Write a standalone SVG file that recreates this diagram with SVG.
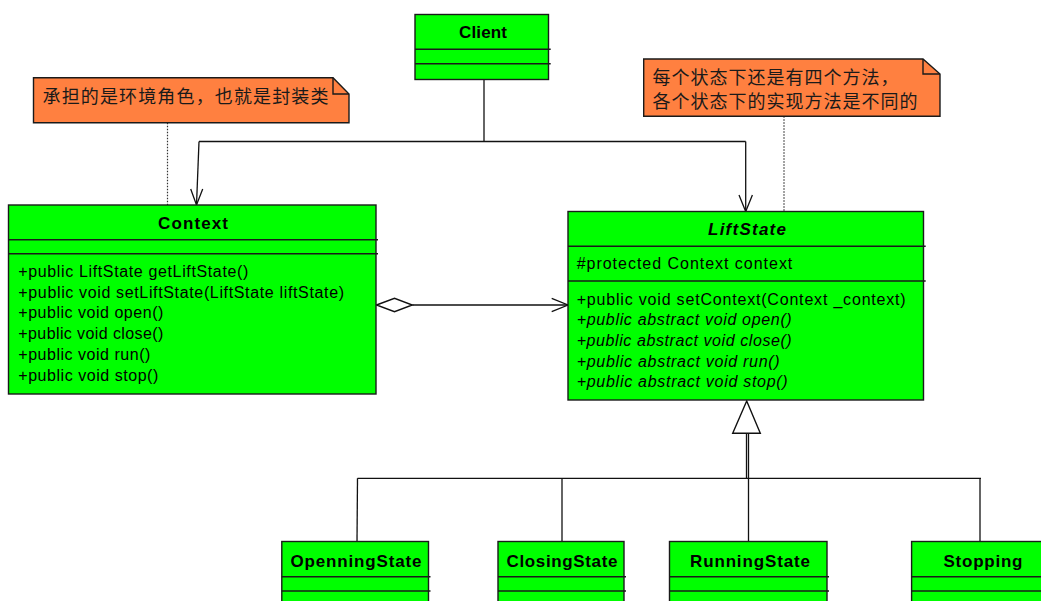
<svg xmlns="http://www.w3.org/2000/svg" width="1041" height="601" viewBox="0 0 1041 601">
<style>
.box{fill:#00ff00;stroke:#1a1a1a;stroke-width:1.4}
.div{stroke:#1a1a1a;stroke-width:1.4}
.note{fill:#ff8040;stroke:#1a1a1a;stroke-width:1.4}
.fold{fill:none;stroke:#1a1a1a;stroke-width:1.4}
.title{font-family:"Liberation Sans",Arial,sans-serif;font-size:17px;font-weight:bold;fill:#000;text-anchor:middle}
.mem{font-family:"Liberation Sans",Arial,sans-serif;font-size:16px;fill:#000}
.it{font-style:italic}
.cn{font-family:"Noto Sans CJK SC",sans-serif;font-size:18px;letter-spacing:1px;fill:#1a1a1a}
.ln{fill:none;stroke:#111;stroke-width:1.3}
.dot{fill:none;stroke:#333;stroke-width:1.2;stroke-dasharray:1.5,1.5}
.hollow{fill:#fff;stroke:#111;stroke-width:1.4}
</style>
<rect width="1041" height="601" fill="#fff"/>

<g id="connectors">
  <path class="dot" d="M167.5,122.7 V205"/>
  <path class="dot" d="M784,116.3 V211.5"/>
  <path class="ln" d="M484,79.3 V141.5"/>
  <path class="ln" d="M199,141.5 H745.7"/>
  <path class="ln" d="M199,141.5 L196.5,205"/>
  <path class="ln" d="M190.7,189 L196.5,205 L202.7,189"/>
  <path class="ln" d="M745.7,141.5 V211.5"/>
  <path class="ln" d="M739,195 L745.7,211.5 L752.4,195"/>
  <path class="ln" d="M412.3,305 H568"/>
  <path class="ln" d="M551.7,298.3 L568,305 L551.7,311.7"/>
  <polygon class="hollow" points="376.5,305 394.5,298.3 412.3,305 394.5,311.7"/>
  <path class="ln" d="M746.5,433.3 V478.3"/>
  <path class="ln" d="M357.5,478.3 H981"/>
  <path class="ln" d="M357.5,478.3 L357,541.5"/>
  <path class="ln" d="M562,478.3 V541.5"/>
  <path class="ln" d="M748.5,433.3 V541.5"/>
  <path class="ln" d="M980,478.3 V541.5"/>
  <polygon class="hollow" points="746.7,401 732.7,433.3 760.3,433.3"/>
</g>

<g id="note-context">
  <path class="note" d="M33.5,77.7 H333 L349,94 V122.7 H33.5 Z"/>
  <path class="fold" d="M333,77.7 V94 H349"/>
  <text class="cn" x="42.5" y="103" textLength="287">承担的是环境角色，也就是封装类</text>
</g>

<g id="note-state">
  <path class="note" d="M643.7,59 H923 L940,74 V116.3 H643.7 Z"/>
  <path class="fold" d="M923,59 V74 H940"/>
  <text class="cn" x="652.5" y="83.5">每个状态下还是有四个方法，</text>
  <text class="cn" x="652.5" y="108" textLength="266">各个状态下的实现方法是不同的</text>
</g>

<g id="client">
  <rect class="box" x="415" y="14.5" width="133.5" height="65"/>
  <path class="div" d="M415,49.3 H550.7 M415,63.7 H550.7"/>
  <text class="title" x="483" y="38" textLength="48">Client</text>
</g>

<g id="context">
  <rect class="box" x="8.5" y="205" width="367.5" height="189"/>
  <path class="div" d="M8.5,239.7 H378 M8.5,253.7 H378"/>
  <text class="title" x="193" y="229.3" textLength="70">Context</text>
  <text class="mem" x="18.3" y="277" textLength="230">+public LiftState getLiftState()</text>
  <text class="mem" x="18.3" y="297.7" textLength="325.7">+public void setLiftState(LiftState liftState)</text>
  <text class="mem" x="18.3" y="318.4" textLength="145">+public void open()</text>
  <text class="mem" x="18.3" y="339.1" textLength="145">+public void close()</text>
  <text class="mem" x="18.3" y="359.8" textLength="132">+public void run()</text>
  <text class="mem" x="18.3" y="380.5" textLength="140">+public void stop()</text>
</g>

<g id="liftstate">
  <rect class="box" x="568" y="211.5" width="355.5" height="188.5"/>
  <path class="div" d="M568,246.3 H925.7 M568,281 H925.7"/>
  <text class="title it" x="747" y="235.3" textLength="78">LiftState</text>
  <text class="mem" x="576.7" y="268.5" textLength="215.6">#protected Context context</text>
  <text class="mem" x="576.7" y="304.5" textLength="329">+public void setContext(Context _context)</text>
  <text class="mem it" x="576.7" y="325.2" textLength="215">+public abstract void open()</text>
  <text class="mem it" x="576.7" y="345.9" textLength="215">+public abstract void close()</text>
  <text class="mem it" x="576.7" y="366.6" textLength="203">+public abstract void run()</text>
  <text class="mem it" x="576.7" y="387.3" textLength="211">+public abstract void stop()</text>
</g>

<g id="openningstate">
  <rect class="box" x="281.8" y="541.5" width="146.7" height="70"/>
  <path class="div" d="M281.8,576.7 H430.5 M281.8,591 H430.5"/>
  <text class="title" x="356" y="566.5" textLength="131">OpenningState</text>
</g>

<g id="closingstate">
  <rect class="box" x="498" y="541.5" width="126" height="70"/>
  <path class="div" d="M498,576.7 H626 M498,591 H626"/>
  <text class="title" x="562" y="566.5" textLength="111">ClosingState</text>
</g>

<g id="runningstate">
  <rect class="box" x="669.5" y="541.5" width="157.5" height="70"/>
  <path class="div" d="M669.5,576.7 H829 M669.5,591 H829"/>
  <text class="title" x="750" y="566.5" textLength="120">RunningState</text>
</g>

<g id="stopping">
  <rect class="box" x="911.6" y="541.5" width="140" height="70"/>
  <path class="div" d="M911.6,576.7 H1052 M911.6,591 H1052"/>
  <text class="title" x="983" y="566.5" textLength="79">Stopping</text>
</g>
</svg>
